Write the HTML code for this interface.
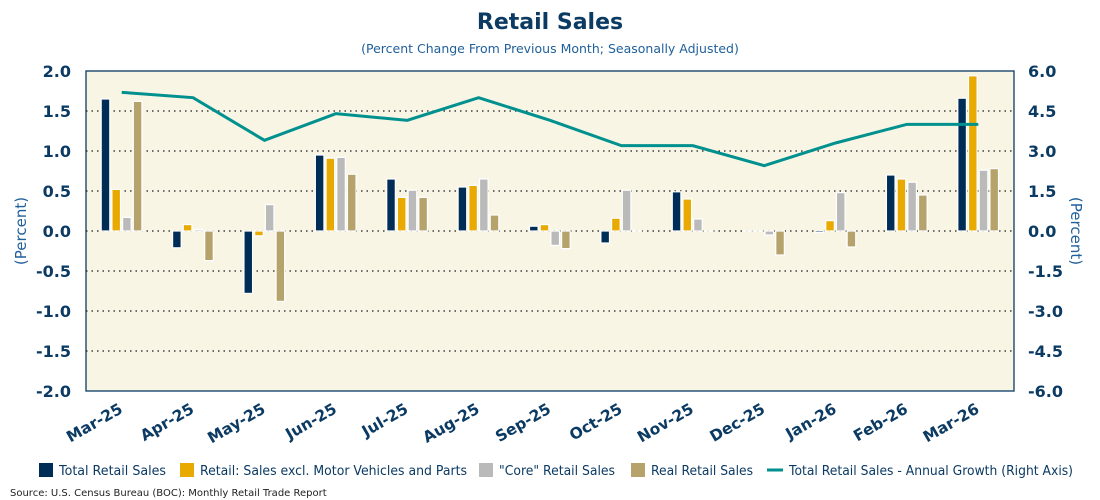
<!DOCTYPE html>
<html><head><meta charset="utf-8"><style>
html,body{margin:0;padding:0;background:#fff;width:1100px;height:500px;overflow:hidden}
svg{display:block}
text{font-family:"DejaVu Sans","Liberation Sans",sans-serif;fill:#0b3a63}
</style></head><body>
<svg id="chart" width="1100" height="500" viewBox="0 0 1100 500" xmlns="http://www.w3.org/2000/svg">
<text x="550" y="29" text-anchor="middle" font-size="22" font-weight="bold">Retail Sales</text>
<text x="550" y="53" text-anchor="middle" font-size="12.5" style="fill:#1f5f9a">(Percent Change From Previous Month; Seasonally Adjusted)</text>
<rect x="86" y="71" width="928" height="320" fill="#f8f5e5" stroke="#0b3a63" stroke-width="1.3"/>
<g id="grid"></g><g id="bars"></g><g id="line"></g><g id="axes"></g>
<text transform="translate(26,231) rotate(-90)" text-anchor="middle" font-size="15" style="fill:#1f5f9a">(Percent)</text>
<text transform="translate(1071,231) rotate(90)" text-anchor="middle" font-size="15" style="fill:#1f5f9a">(Percent)</text>
<g id="legend"></g>
<text x="10" y="496" font-size="10" style="fill:#222">Source: U.S. Census Bureau (BOC): Monthly Retail Trade Report</text>
</svg>
<script>
const categories=["Mar-25","Apr-25","May-25","Jun-25","Jul-25","Aug-25","Sep-25","Oct-25","Nov-25","Dec-25","Jan-26","Feb-26","Mar-26"];
const totalSales=[1.65,-0.21,-0.78,0.95,0.65,0.55,0.06,-0.15,0.49,0.0,-0.02,0.70,1.66];
const exMotor=[0.52,0.08,-0.06,0.91,0.42,0.57,0.08,0.16,0.40,0.0,0.13,0.65,1.94];
const coreSales=[0.17,0.02,0.33,0.92,0.51,0.65,-0.18,0.51,0.15,-0.05,0.48,0.61,0.76];
const realSales=[1.62,-0.37,-0.88,0.71,0.42,0.20,-0.22,0.0,0.0,-0.30,-0.20,0.45,0.78];
const annualGrowth=[5.2,5.0,3.4,4.4,4.15,5.0,4.15,3.2,3.2,2.45,3.3,4.0,4.0];
const leftTicks=["2.0","1.5","1.0","0.5","0.0","-0.5","-1.0","-1.5","-2.0"];
const rightTicks=["6.0","4.5","3.0","1.5","0.0","-1.5","-3.0","-4.5","-6.0"];
const seriesNames=["Total Retail Sales","Retail: Sales excl. Motor Vehicles and Parts","\"Core\" Retail Sales","Real Retail Sales"];
const NS="http://www.w3.org/2000/svg";
const X0=86,X1=1014,Y0=71,Y1=391;
const band=(X1-X0)/categories.length;
const yL=v=>Y1-(v+2)/4*(Y1-Y0);
const yR=v=>Y1-(v+6)/12*(Y1-Y0);
const xc=i=>X0+band*(i+0.5);
function mk(tag,attrs,parent){const e=document.createElementNS(NS,tag);for(const k in attrs)e.setAttribute(k,attrs[k]);document.getElementById(parent).appendChild(e);return e;}
leftTicks.forEach((t,i)=>{const v=parseFloat(t);const y=yL(v);
 if(v!==2&&v!==-2){const g=mk('line',{x1:X0,x2:X1,y1:y,y2:y,stroke:'#1a1a1a','stroke-width':1.3,'stroke-dasharray':'1.5,4'},'grid');
 
 }
 const l=mk('text',{x:71,y:y+6,'text-anchor':'end','font-size':16,'font-weight':'bold'},'axes');l.textContent=t;
 
 
 const r=mk('text',{x:1028,y:yR(parseFloat(rightTicks[i]))+6,'text-anchor':'start','font-size':16,'font-weight':'bold'},'axes');r.textContent=rightTicks[i];
 
 
});
const series=[totalSales,exMotor,coreSales,realSales];
const colors=["#002d56","#e8a900","#bababa","#b5a36b"];
const bw=8.6,step=10.7;
series.forEach((s,si)=>{s.forEach((v,i)=>{const x=xc(i)-20.5+si*step;const y=Math.min(yL(v),yL(0));const h=Math.abs(yL(v)-yL(0));
 const b=mk('rect',{x:x,y:y,width:bw,height:Math.max(h,0.01),fill:colors[si],stroke:'#fff','stroke-width':1.2},'bars');
 
 });});
const pts=annualGrowth.map((v,i)=>xc(i)+','+yR(v)).join(' ');
const pl=mk('polyline',{points:pts,fill:'none',stroke:'#00918f','stroke-width':3},'line');


categories.forEach((c,i)=>{const t=mk('text',{transform:`translate(${xc(i)+2},${412}) rotate(-30)`,'text-anchor':'end','font-size':15.5,'font-weight':'bold'},'axes');t.textContent=c;
 
 });
// legend
const lx=[39,180,479,631,767];
const lw=[107,267,116,102,284];
seriesNames.forEach((n,i)=>{const r=mk('rect',{x:lx[i],y:463,width:14,height:14,fill:colors[i]},'legend');
 
 
 const t=mk('text',{x:lx[i]+20,y:475,'font-size':13,textLength:lw[i],lengthAdjust:'spacingAndGlyphs'},'legend');t.textContent=n;
 
 });
const ll=mk('line',{x1:lx[4],x2:lx[4]+16,y1:470,y2:470,stroke:'#00918f','stroke-width':3},'legend');


const lt=mk('text',{x:lx[4]+22,y:475,'font-size':13,textLength:lw[4],lengthAdjust:'spacingAndGlyphs'},'legend');lt.textContent="Total Retail Sales - Annual Growth (Right Axis)";


</script>
</body></html>
